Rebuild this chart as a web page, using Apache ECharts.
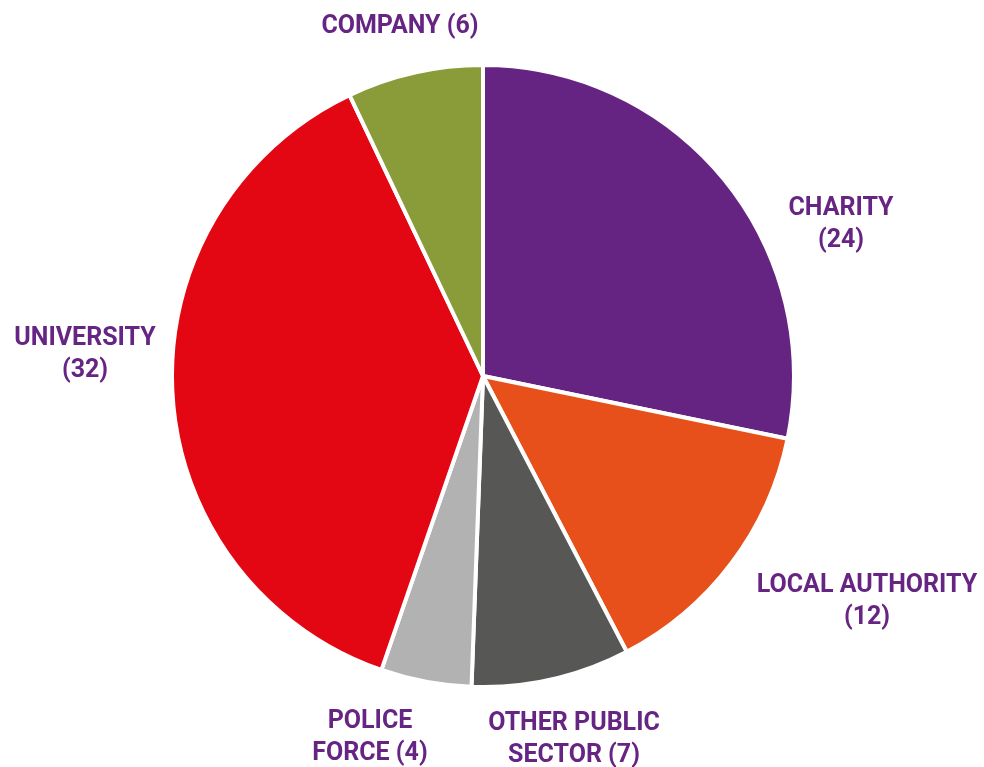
<!DOCTYPE html>
<html>
<head>
<meta charset="utf-8">
<script src="https://cdn.jsdelivr.net/npm/echarts@6/dist/echarts.min.js"></script>
<style>html,body{margin:0;padding:0;background:#fff}#c{width:984px;height:767px}</style>
</head>
<body>
<div id="c"></div>
<script>
const categories = ['CHARITY', 'LOCAL AUTHORITY', 'OTHER PUBLIC SECTOR', 'POLICE FORCE', 'UNIVERSITY', 'COMPANY'];
const values = [24, 12, 7, 4, 32, 6];
const labelTexts = ['CHARITY\n(24)', 'LOCAL AUTHORITY\n(12)', 'OTHER PUBLIC\nSECTOR (7)', 'POLICE\nFORCE (4)', 'UNIVERSITY\n(32)', 'COMPANY (6)'];
const colors = ['#662482', '#E8501B', '#575756', '#B2B2B2', '#E30613', '#8A9B3A'];
const labelPos = [[841, 225], [867, 602], [574, 740], [370, 738], [85, 355], [400, 27]];

const chart = echarts.init(document.getElementById('c'));
chart.setOption({
  animation: false,
  series: [{
    type: 'pie',
    center: [483, 376],
    radius: 311,
    startAngle: 90,
    clockwise: true,
    avoidLabelOverlap: false,
    itemStyle: { borderColor: '#fff', borderWidth: 4 },
    label: {
      show: true,
      position: 'outside',
      formatter: p => labelTexts[p.dataIndex],
      color: '#662483',
      fontFamily: 'Roboto',
      fontWeight: 'bold',
      fontSize: 25,
      lineHeight: 32,
      align: 'center'
    },
    labelLine: { show: false },
    labelLayout: function (params) {
      const p = labelPos[params.dataIndex];
      return { x: p[0], y: p[1], align: 'center', verticalAlign: 'middle' };
    },
    data: categories.map((c, i) => ({ name: c, value: values[i], itemStyle: { color: colors[i] } }))
  }]
});
</script>
</body>
</html>
